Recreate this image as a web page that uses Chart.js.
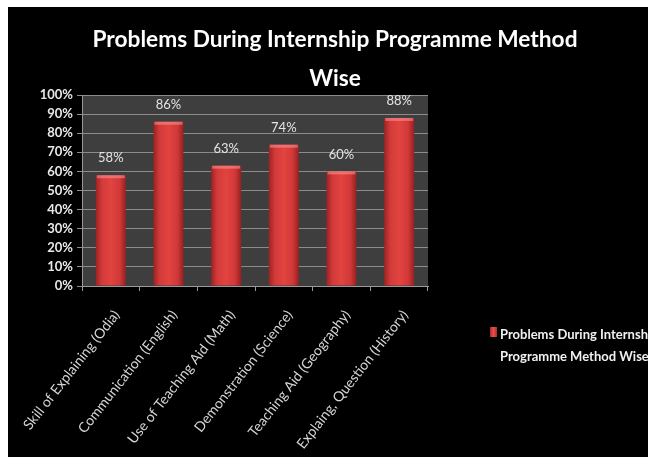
<!DOCTYPE html>
<html><head><meta charset="utf-8">
<script src="https://cdn.jsdelivr.net/npm/chart.js@4"></script>
<style>
html,body{margin:0;padding:0;background:#fff;width:648px;height:463px;overflow:hidden}
#wrap{position:absolute;left:8px;top:7px;width:640px;height:450px;background:#000;overflow:hidden}
</style></head><body>
<div id="wrap"><canvas id="c" width="640" height="450"></canvas></div>
<script>
const categories = ["Skill of Explaining (Odia)","Communication (English)","Use of Teaching Aid (Math)","Demonstration (Science)","Teaching Aid (Geography)","Explaing, Question (History)"];
const values = [58, 86, 63, 74, 60, 88];
const seriesName = "Problems During Internship Programme Method Wise";
const titleLines = ["Problems During Internship Programme Method","Wise"];
const legendLines = ["Problems During Internship","Programme Method Wise"];

const FONT = "Lato,'Open Sans',sans-serif";

const plotBg = {
  id:'plotBg',
  beforeDraw(chart){
    const {ctx, chartArea:a} = chart;
    ctx.save(); ctx.fillStyle='#3e3e3e';
    ctx.fillRect(a.left,a.top,a.right-a.left,a.bottom-a.top); ctx.restore();
  }
};
const titlePlugin = {
  id:'customTitle',
  afterDraw(chart){
    const {ctx} = chart;
    ctx.save();
    let size = 26;
    ctx.font = "bold "+size+"px "+FONT;
    const w = ctx.measureText(titleLines[0]).width;
    size = size * 485 / w;
    ctx.font = "bold "+size.toFixed(2)+"px "+FONT;
    ctx.fillStyle='#ffffff'; ctx.textAlign='center'; ctx.textBaseline='alphabetic';
    titleLines.forEach((t,i)=>ctx.fillText(t, 327, 40 + i*39));
    ctx.restore();
  }
};
const labelsPlugin = {
  id:'valLabels',
  afterDatasetsDraw(chart){
    const {ctx} = chart; const meta = chart.getDatasetMeta(0);
    ctx.save(); ctx.font="13px "+FONT;
    ctx.textAlign='center'; ctx.textBaseline='middle';
    meta.data.forEach((b,i)=>{
      ctx.fillStyle='rgba(255,150,150,0.55)';
      ctx.fillRect(b.x-b.width/2+1, b.y, b.width-2, 3);
      ctx.fillStyle='#e4e4e4';
      ctx.fillText(values[i]+'%', b.x, b.y-17);
    });
    ctx.restore();
  }
};
const legendPlugin = {
  id:'customLegend',
  afterDraw(chart){
    const {ctx} = chart;
    const x = 482, y = 326;
    ctx.save();
    const g = ctx.createLinearGradient(x,0,x+7,0);
    g.addColorStop(0,'#b02a2a'); g.addColorStop(0.5,'#e85050'); g.addColorStop(1,'#b02a2a');
    ctx.fillStyle=g; ctx.fillRect(x, y-6, 7, 10);
    ctx.fillStyle='#f0f0f0'; ctx.font="bold 13px "+FONT;
    ctx.textAlign='left'; ctx.textBaseline='middle';
    legendLines.forEach((t,i)=>ctx.fillText(t, x+10, y + 2 + i*22));
    ctx.restore();
  }
};

new Chart(document.getElementById('c'), {
  type:'bar',
  data:{ labels:categories, datasets:[{ label:seriesName, data:values,
    backgroundColor:(ctx)=>{
      const chart = ctx.chart; const xs = chart.scales && chart.scales.x;
      if(!xs || ctx.dataIndex===undefined) return '#d63c3c';
      const cx = xs.getPixelForValue(ctx.dataIndex);
      const half = (xs.width/categories.length)*0.52/2;
      if(!isFinite(cx) || !isFinite(half) || half<=0) return '#d63c3c';
      const g = chart.ctx.createLinearGradient(cx-half,0,cx+half,0);
      g.addColorStop(0,'#9e2222'); g.addColorStop(0.2,'#d23a3a'); g.addColorStop(0.5,'#e2443f'); g.addColorStop(0.8,'#d03838'); g.addColorStop(1,'#962020');
      return g;
    },
    borderWidth:0, barPercentage:0.52, categoryPercentage:1 }]},
  options:{
    responsive:false, animation:false,
    layout:{padding:{left:0,right:220,top:88,bottom:0}},
    plugins:{ legend:{display:false}, tooltip:{enabled:false}, title:{display:false} },
    scales:{
      x:{ grid:{display:true, drawOnChartArea:false, color:'#9a9a9a', tickLength:5},
        border:{color:'#9a9a9a'},
        ticks:{color:'#d4d4d4', font:{family:FONT, size:14}, maxRotation:52, minRotation:52, autoSkip:false, padding:16, labelOffset:6},
        afterFit(s){ s.height = 171; s.paddingLeft = 0; s.paddingRight = 0; } },
      y:{ min:0, max:100,
        ticks:{stepSize:10, color:'#e8e8e8', font:{family:FONT, size:13, weight:'bold'}, callback:v=>v+'%', padding:4},
        grid:{color:'#8c8c8c', lineWidth:1, tickLength:5, drawTicks:true},
        border:{color:'#9a9a9a'},
        afterFit(s){ s.width = 74; } }
    }
  },
  plugins:[plotBg, labelsPlugin, legendPlugin, titlePlugin]
});
</script></body></html>
